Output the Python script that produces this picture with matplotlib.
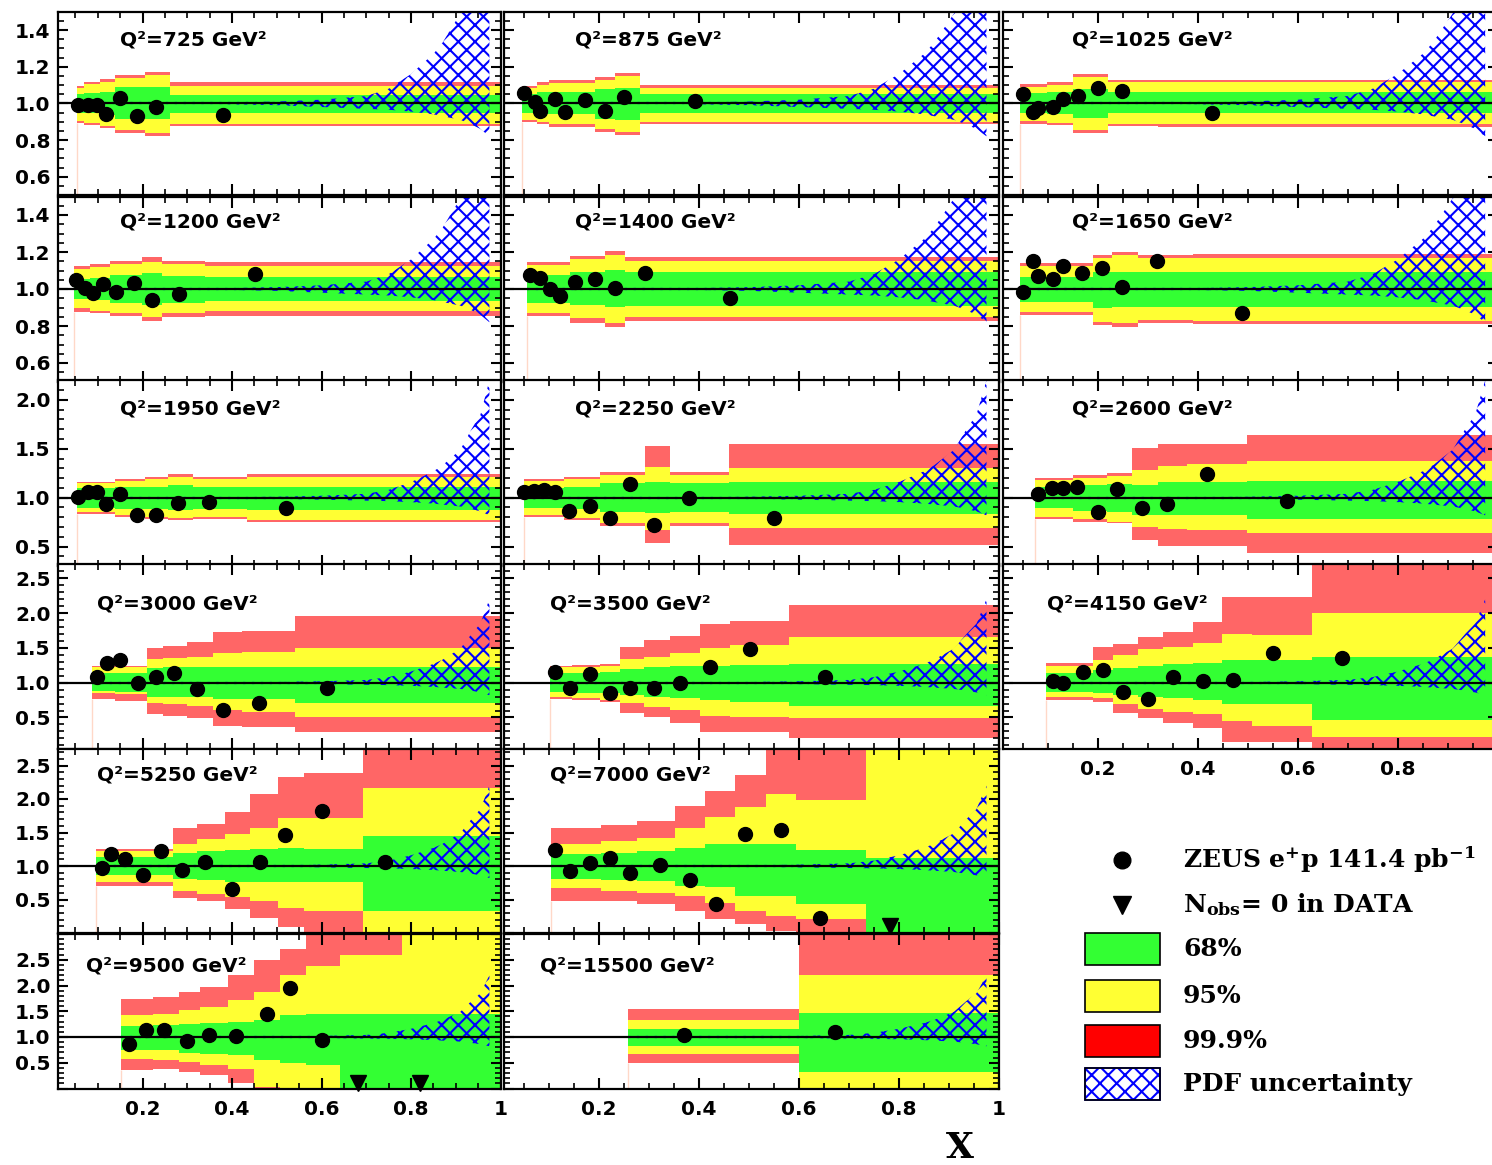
import numpy as np
import matplotlib
matplotlib.use("Agg")
import matplotlib.pyplot as plt
from matplotlib.ticker import MultipleLocator, FuncFormatter
from matplotlib.patches import Rectangle
from matplotlib.lines import Line2D

W, H = 1492, 1165
plt.rcParams['font.family'] = ['DejaVu Sans']
plt.rcParams['hatch.linewidth'] = 1.5
plt.rcParams['mathtext.fontset'] = 'dejavuserif'

# ---------------- data ----------------
q2_labels = ["725", "875", "1025", "1200", "1400", "1650", "1950", "2250", "2600",
             "3000", "3500", "4150", "5250", "7000", "9500", "15500"]

bin_edges = {
    "725":  [0.053, 0.068, 0.105, 0.138, 0.205, 0.261, 1.0],
    "875":  [0.045, 0.075, 0.099, 0.192, 0.232, 0.282, 1.0],
    "1025": [0.045, 0.098, 0.151, 0.221, 0.321, 1.0],
    "1200": [0.047, 0.082, 0.127, 0.198, 0.243, 0.339, 1.0],
    "1400": [0.055, 0.142, 0.212, 0.252, 1.0],
    "1650": [0.045, 0.191, 0.228, 0.281, 0.391, 1.0],
    "1950": [0.053, 0.138, 0.205, 0.257, 0.313, 0.433, 1.0],
    "2250": [0.049, 0.129, 0.201, 0.292, 0.342, 0.459, 1.0],
    "2600": [0.075, 0.151, 0.218, 0.268, 0.320, 0.378, 0.498, 1.0],
    "3000": [0.086, 0.138, 0.209, 0.246, 0.299, 0.358, 0.421, 0.541, 1.0],
    "3500": [0.102, 0.145, 0.201, 0.241, 0.290, 0.342, 0.402, 0.461, 0.579, 1.0],
    "4150": [0.096, 0.191, 0.231, 0.281, 0.331, 0.391, 0.449, 0.508, 0.629, 1.0],
    "5250": [0.096, 0.268, 0.322, 0.383, 0.440, 0.503, 0.560, 0.692, 1.0],
    "7000": [0.104, 0.203, 0.276, 0.351, 0.411, 0.472, 0.533, 0.593, 0.734, 1.0],
    "9500": [0.151, 0.224, 0.282, 0.329, 0.390, 0.448, 0.508, 0.566, 0.641, 0.779, 1.0],
    "15500": [0.257, 0.600, 1.0],
}

red_hi = {
    "725":  [1.095, 1.118, 1.131, 1.155, 1.173, 1.118],
    "875":  [1.095, 1.115, 1.125, 1.145, 1.165, 1.10],
    "1025": [1.105, 1.115, 1.16, 1.13, 1.13],
    "1200": [1.124, 1.135, 1.151, 1.175, 1.151, 1.148],
    "1400": [1.148, 1.18, 1.205, 1.172],
    "1650": [1.14, 1.184, 1.20, 1.184, 1.189],
    "1950": [1.163, 1.19, 1.214, 1.238, 1.214, 1.238],
    "2250": [1.19, 1.214, 1.259, 1.527, 1.265, 1.554],
    "2600": [1.204, 1.231, 1.248, 1.51, 1.554, 1.554, 1.646],
    "3000": [1.24, 1.24, 1.493, 1.527, 1.589, 1.733, 1.747, 1.958],
    "3500": [1.24, 1.254, 1.268, 1.508, 1.613, 1.67, 1.843, 1.891, 2.116],
    "4150": [1.278, 1.508, 1.556, 1.661, 1.733, 1.876, 2.236, 2.236, 2.75],
    "5250": [1.26, 1.56, 1.63, 1.80, 2.07, 2.33, 2.39, 2.80],
    "7000": [1.572, 1.607, 1.672, 1.896, 2.12, 2.358, 2.80, 2.80, 2.80],
    "9500": [1.744, 1.777, 1.874, 1.971, 2.197, 2.489, 2.715, 3.05, 3.05, 3.05],
    "15500": [1.55, 3.05],
}
red_lo = {
    "725":  [0.895, 0.882, 0.864, 0.836, 0.822, 0.876],
    "875":  [0.90, 0.885, 0.87, 0.845, 0.83, 0.887],
    "1025": [0.89, 0.88, 0.84, 0.875, 0.87],
    "1200": [0.877, 0.868, 0.854, 0.827, 0.85, 0.854],
    "1400": [0.854, 0.818, 0.796, 0.829],
    "1650": [0.86, 0.805, 0.797, 0.818, 0.811],
    "1950": [0.83, 0.806, 0.782, 0.772, 0.782, 0.755],
    "2250": [0.806, 0.772, 0.714, 0.534, 0.714, 0.517],
    "2600": [0.782, 0.755, 0.738, 0.568, 0.51, 0.51, 0.432],
    "3000": [0.761, 0.741, 0.55, 0.521, 0.488, 0.377, 0.358, 0.296],
    "3500": [0.761, 0.751, 0.727, 0.569, 0.511, 0.425, 0.296, 0.296, 0.20],
    "4150": [0.751, 0.727, 0.559, 0.488, 0.416, 0.344, 0.152, 0.152, 0.0],
    "5250": [0.70, 0.517, 0.478, 0.353, 0.219, 0.09, 0.0, 0.0],
    "7000": [0.48, 0.48, 0.438, 0.328, 0.204, 0.129, 0.03, 0.0, 0.0],
    "9500": [0.366, 0.385, 0.32, 0.256, 0.107, 0.0, 0.0, 0.0, 0.0, 0.0],
    "15500": [0.495, 0.0],
}
yel_hi = {
    "725":  [1.082, 1.105, 1.118, 1.136, 1.155, 1.095],
    "875":  [1.085, 1.10, 1.11, 1.13, 1.15, 1.085],
    "1025": [1.09, 1.10, 1.145, 1.115, 1.115],
    "1200": [1.106, 1.117, 1.135, 1.148, 1.135, 1.124],
    "1400": [1.13, 1.16, 1.184, 1.151],
    "1650": [1.124, 1.166, 1.184, 1.166, 1.166],
    "1950": [1.146, 1.17, 1.19, 1.214, 1.19, 1.214],
    "2250": [1.17, 1.19, 1.231, 1.316, 1.231, 1.306],
    "2600": [1.18, 1.204, 1.224, 1.282, 1.327, 1.34, 1.374],
    "3000": [1.22, 1.22, 1.335, 1.35, 1.374, 1.431, 1.445, 1.493],
    "3500": [1.22, 1.23, 1.24, 1.335, 1.374, 1.421, 1.493, 1.541, 1.651],
    "4150": [1.24, 1.326, 1.397, 1.479, 1.508, 1.565, 1.699, 1.685, 2.006],
    "5250": [1.23, 1.333, 1.40, 1.483, 1.572, 1.711, 1.711, 2.17],
    "7000": [1.333, 1.373, 1.413, 1.572, 1.731, 1.88, 2.08, 1.98, 2.80],
    "9500": [1.421, 1.44, 1.518, 1.583, 1.712, 1.874, 2.197, 2.372, 2.586, 3.05],
    "15500": [1.324, 2.197],
}
yel_lo = {
    "725":  [0.905, 0.895, 0.876, 0.855, 0.84, 0.89],
    "875":  [0.91, 0.90, 0.885, 0.86, 0.845, 0.90],
    "1025": [0.905, 0.895, 0.855, 0.89, 0.885],
    "1200": [0.895, 0.883, 0.872, 0.85, 0.868, 0.883],
    "1400": [0.872, 0.841, 0.818, 0.847],
    "1650": [0.877, 0.823, 0.814, 0.832, 0.829],
    "1950": [0.85, 0.823, 0.806, 0.789, 0.806, 0.772],
    "2250": [0.823, 0.796, 0.738, 0.67, 0.738, 0.687],
    "2600": [0.806, 0.782, 0.755, 0.704, 0.68, 0.67, 0.636],
    "3000": [0.856, 0.837, 0.703, 0.693, 0.665, 0.607, 0.583, 0.511],
    "3500": [0.789, 0.775, 0.751, 0.703, 0.655, 0.607, 0.521, 0.511, 0.488],
    "4150": [0.789, 0.775, 0.693, 0.617, 0.583, 0.55, 0.454, 0.377, 0.224],
    "5250": [0.766, 0.627, 0.587, 0.537, 0.478, 0.368, 0.328, 0.0],
    "7000": [0.667, 0.627, 0.602, 0.552, 0.453, 0.328, 0.254, 0.204, 0.0],
    "9500": [0.579, 0.56, 0.515, 0.45, 0.385, 0.03, 0.0, 0.0, 0.0, 0.0],
    "15500": [0.663, 0.0],
}
grn_hi = {
    "725":  [1.05, 1.055, 1.064, 1.087, 1.087, 1.045],
    "875":  [1.05, 1.06, 1.06, 1.08, 1.085, 1.05],
    "1025": [1.055, 1.06, 1.08, 1.06, 1.06],
    "1200": [1.052, 1.058, 1.076, 1.085, 1.07, 1.063],
    "1400": [1.076, 1.094, 1.103, 1.094],
    "1650": [1.063, 1.094, 1.094, 1.094, 1.094],
    "1950": [1.102, 1.112, 1.112, 1.129, 1.112, 1.112],
    "2250": [1.095, 1.112, 1.146, 1.156, 1.146, 1.156],
    "2600": [1.112, 1.129, 1.136, 1.129, 1.156, 1.156, 1.17],
    "3000": [1.134, 1.134, 1.206, 1.22, 1.22, 1.22, 1.22, 1.22],
    "3500": [1.134, 1.144, 1.158, 1.192, 1.23, 1.24, 1.24, 1.254, 1.268],
    "4150": [1.144, 1.182, 1.206, 1.24, 1.268, 1.278, 1.326, 1.326, 1.364],
    "5250": [1.134, 1.20, 1.224, 1.234, 1.249, 1.274, 1.249, 1.448],
    "7000": [1.174, 1.20, 1.224, 1.264, 1.323, 1.333, 1.333, 1.234, 1.114],
    "9500": [1.207, 1.227, 1.246, 1.272, 1.291, 1.337, 1.421, 1.44, 1.44, 1.44],
    "15500": [1.162, 1.466],
}
grn_lo = {
    "725":  [0.95, 0.945, 0.936, 0.913, 0.913, 0.945],
    "875":  [0.95, 0.94, 0.94, 0.915, 0.91, 0.945],
    "1025": [0.945, 0.94, 0.92, 0.945, 0.945],
    "1200": [0.944, 0.94, 0.923, 0.914, 0.926, 0.937],
    "1400": [0.926, 0.914, 0.905, 0.908],
    "1650": [0.932, 0.895, 0.901, 0.901, 0.901],
    "1950": [0.898, 0.884, 0.884, 0.874, 0.884, 0.874],
    "2250": [0.898, 0.884, 0.857, 0.84, 0.857, 0.837],
    "2600": [0.891, 0.864, 0.857, 0.823, 0.823, 0.823, 0.782],
    "3000": [0.88, 0.871, 0.799, 0.789, 0.789, 0.761, 0.761, 0.703],
    "3500": [0.871, 0.856, 0.847, 0.823, 0.789, 0.775, 0.751, 0.727, 0.665],
    "4150": [0.871, 0.847, 0.823, 0.789, 0.775, 0.751, 0.693, 0.693, 0.464],
    "5250": [0.866, 0.80, 0.786, 0.766, 0.766, 0.766, 0.766, 0.328],
    "7000": [0.80, 0.786, 0.776, 0.701, 0.687, 0.552, 0.552, 0.438, 0.0],
    "9500": [0.754, 0.741, 0.689, 0.663, 0.644, 0.547, 0.495, 0.45, 0.0, 0.0],
    "15500": [0.819, 0.32],
}

data_x = {
    "725":  [0.056, 0.079, 0.099, 0.118, 0.149, 0.188, 0.229, 0.380],
    "875":  [0.050, 0.071, 0.081, 0.112, 0.132, 0.172, 0.211, 0.250, 0.392],
    "1025": [0.051, 0.071, 0.081, 0.111, 0.131, 0.160, 0.200, 0.249, 0.429],
    "1200": [0.051, 0.071, 0.090, 0.111, 0.140, 0.181, 0.220, 0.281, 0.451],
    "1400": [0.061, 0.081, 0.101, 0.121, 0.152, 0.192, 0.231, 0.291, 0.461],
    "1650": [0.051, 0.071, 0.080, 0.111, 0.131, 0.169, 0.209, 0.249, 0.319, 0.489],
    "1950": [0.056, 0.079, 0.099, 0.118, 0.149, 0.188, 0.229, 0.280, 0.348, 0.520],
    "2250": [0.049, 0.069, 0.089, 0.112, 0.140, 0.181, 0.221, 0.261, 0.310, 0.380, 0.550],
    "2600": [0.080, 0.109, 0.130, 0.159, 0.200, 0.239, 0.289, 0.338, 0.419, 0.579],
    "3000": [0.099, 0.120, 0.149, 0.190, 0.229, 0.270, 0.322, 0.380, 0.460, 0.611],
    "3500": [0.112, 0.142, 0.181, 0.222, 0.262, 0.310, 0.362, 0.421, 0.502, 0.652],
    "4150": [0.111, 0.131, 0.171, 0.211, 0.251, 0.300, 0.351, 0.411, 0.470, 0.550, 0.689],
    "5250": [0.110, 0.129, 0.160, 0.201, 0.241, 0.289, 0.340, 0.400, 0.462, 0.519, 0.600, 0.742],
    "7000": [0.112, 0.142, 0.181, 0.221, 0.261, 0.322, 0.382, 0.433, 0.491, 0.563, 0.642],
    "9500": [0.169, 0.207, 0.248, 0.299, 0.349, 0.408, 0.478, 0.530, 0.600],
    "15500": [0.370, 0.671],
}
data_y = {
    "725":  [0.991, 0.991, 0.991, 0.942, 1.027, 0.933, 0.982, 0.936],
    "875":  [1.058, 1.009, 0.960, 1.024, 0.955, 1.018, 0.960, 1.035, 1.013],
    "1025": [1.049, 0.955, 0.973, 0.982, 1.022, 1.040, 1.082, 1.067, 0.945],
    "1200": [1.049, 1.004, 0.977, 1.027, 0.982, 1.031, 0.941, 0.973, 1.081],
    "1400": [1.076, 1.058, 1.000, 0.962, 1.036, 1.052, 1.007, 1.085, 0.950],
    "1650": [0.986, 1.151, 1.070, 1.052, 1.126, 1.088, 1.115, 1.013, 1.153, 0.872],
    "1950": [1.010, 1.061, 1.061, 0.932, 1.034, 0.823, 0.823, 0.942, 0.952, 0.898],
    "2250": [1.061, 1.068, 1.078, 1.061, 0.864, 0.915, 0.789, 1.143, 0.721, 0.993, 0.796],
    "2600": [1.034, 1.095, 1.102, 1.112, 0.850, 1.085, 0.891, 0.935, 1.238, 0.969],
    "3000": [1.077, 1.287, 1.326, 0.990, 1.086, 1.134, 0.909, 0.607, 0.703, 0.919],
    "3500": [1.158, 0.919, 1.125, 0.847, 0.919, 0.919, 0.990, 1.220, 1.479, 1.077],
    "4150": [1.029, 1.000, 1.158, 1.182, 0.871, 0.761, 1.077, 1.029, 1.038, 1.421, 1.350],
    "5250": [0.965, 1.174, 1.100, 0.861, 1.224, 0.935, 1.065, 0.652, 1.065, 1.463, 1.821, 1.065],
    "7000": [1.234, 0.925, 1.050, 1.114, 0.900, 1.015, 0.786, 0.438, 1.473, 1.532, 0.219],
    "9500": [0.858, 1.129, 1.129, 0.922, 1.045, 1.019, 1.440, 1.958, 0.935],
    "15500": [1.045, 1.097],
}

# N_obs = 0 bins (downward triangles)
zero_x = {"7000": [0.782], "9500": [0.681, 0.819]}
zero_y = {"7000": [0.104], "9500": [0.107, 0.107]}

# PDF uncertainty band (ratio)
pdf_x = [0.30, 0.50, 0.60, 0.70, 0.75, 0.80, 0.85, 0.87, 0.91, 0.935, 0.955, 0.975]
pdf_hi = [1.0, 1.01, 1.02, 1.04, 1.08, 1.16, 1.27, 1.33, 1.49, 1.70, 1.85, 2.20]
pdf_lo = [1.0, 0.99, 0.98, 0.97, 0.965, 0.955, 0.94, 0.93, 0.91, 0.885, 0.86, 0.82]

legend_labels = ["ZEUS e$^{\\mathbf{+}}$p 141.4 pb$^{\\mathbf{-1}}$",
                 "N$_{\\mathbf{obs}}$= 0 in DATA",
                 "68%", "95%", "99.9%", "PDF uncertainty"]

# ---------------- layout ----------------
col_px = [(57.6, 500.6), (504.0, 999.0), (1002.7, 1497.7)]
row_px = [(11.7, 195.0), (196.5, 381.5), (380.3, 566.2), (564.4, 748.8),
          (748.75, 933.0), (934.0, 1088.5)]
row_ylim = [(0.5, 1.5), (0.5, 1.5), (0.3, 2.2), (0.05, 2.7), (0.0, 2.75), (0.0, 3.0)]
row_major = [0.2, 0.2, 0.5, 0.5, 0.5, 0.5]
row_minor = [0.05, 0.05, 0.1, 0.1, 0.1, 0.1]
title_px = [(120, 575, 1072, 40), (120, 575, 1072, 222), (120, 575, 1072, 409),
            (97, 550, 1047, 604), (97, 550, None, 775), (86, 540, None, 966)]

C_GREEN = '#33ff33'
C_YEL = '#ffff33'
C_RED = '#ff6666'

fig = plt.figure(figsize=(W / 100, H / 100), dpi=100)


def xfmt(v, pos):
    if abs(v - 1.0) < 1e-6:
        return "1"
    if v < 0.1:
        return ""
    return "%.1f" % v


def xfmt_nolast(v, pos):
    if v < 0.1 or v > 0.95:
        return ""
    return "%.1f" % v


def yfmt(v, pos):
    if v < 0.2 or v > 2.6:
        return ""
    return "%.1f" % v


for i, lab in enumerate(q2_labels):
    if i < 12:
        r, c = divmod(i, 3)
    else:
        r = 4 + (i - 12) // 2
        c = (i - 12) % 2
    x0, x1 = col_px[c]
    y0, y1 = row_px[r]
    ax = fig.add_axes([x0 / W, 1 - y1 / H, (x1 - x0) / W, (y1 - y0) / H])
    ax.set_xlim(0.01, 1.0)
    ax.set_ylim(*row_ylim[r])
    e = bin_edges[lab]
    ax.stairs(red_hi[lab], e, baseline=red_lo[lab], fill=True, color=C_RED, lw=0, zorder=1)
    ax.stairs(yel_hi[lab], e, baseline=yel_lo[lab], fill=True, color=C_YEL, lw=0, zorder=1.1)
    ax.stairs(grn_hi[lab], e, baseline=grn_lo[lab], fill=True, color=C_GREEN, lw=0, zorder=1.2)
    ax.vlines(e[0], row_ylim[r][0], red_lo[lab][0], color='#ffd8c8', lw=1.0, zorder=1)
    ax.fill_between(pdf_x, pdf_lo, pdf_hi, facecolor='none', edgecolor='blue',
                    hatch='xx', linewidth=0, zorder=2)
    ax.plot([e[0], 0.62], [1.0, 1.0], color='blue', ls=(0, (1, 3)), lw=1.6, zorder=2.5)
    ax.axhline(1.0, color='black', lw=1.6, zorder=3)
    ax.plot(data_x[lab], data_y[lab], 'o', color='black', ms=10, zorder=4, clip_on=False)
    if lab in zero_x:
        ax.plot(zero_x[lab], zero_y[lab], 'v', color='black', ms=11, zorder=4, clip_on=False)

    ax.xaxis.set_major_locator(MultipleLocator(0.2))
    ax.xaxis.set_minor_locator(MultipleLocator(0.05))
    ax.yaxis.set_major_locator(MultipleLocator(row_major[r]))
    ax.yaxis.set_minor_locator(MultipleLocator(row_minor[r]))
    ax.tick_params(axis='both', which='both', direction='in', top=True, right=True)
    ax.tick_params(axis='x', which='major', length=8, width=1.5)
    ax.tick_params(axis='x', which='minor', length=4, width=1.2)
    ax.tick_params(axis='y', which='major', length=7, width=1.5)
    ax.tick_params(axis='y', which='minor', length=4, width=1.2)
    ax.tick_params(axis='both', labelsize=14.5, pad=5)
    for s in ax.spines.values():
        s.set_linewidth(1.6)
    if lab == "4150":
        ax.xaxis.set_major_formatter(FuncFormatter(xfmt_nolast))
    else:
        ax.xaxis.set_major_formatter(FuncFormatter(xfmt))
    ax.yaxis.set_major_formatter(FuncFormatter(yfmt))
    show_x = (r == 5) or (lab == "4150")
    show_y = (c == 0)
    ax.tick_params(axis='x', labelbottom=show_x, pad=8)
    ax.tick_params(axis='y', labelleft=show_y)
    for t in ax.get_xticklabels() + ax.get_yticklabels():
        t.set_fontweight('bold')

    tx = title_px[r][c]
    ty = title_px[r][3]
    fig.text(tx / W, 1 - ty / H, "Q\u00b2=%s GeV\u00b2" % lab, fontsize=14.5,
             fontweight='bold', ha='left', va='center')

# x axis title
fig.text(960 / W, 1 - 1148 / H, "X", fontsize=26, fontweight='bold',
         family='DejaVu Serif', ha='center', va='center')


# legend
def fx(px):
    return px / W


def fy(py):
    return 1 - py / H


fig.add_artist(Line2D([fx(1122)], [fy(860)], marker='o', color='black', ms=12,
                      transform=fig.transFigure))
fig.add_artist(Line2D([fx(1122)], [fy(905)], marker='v', color='black', ms=13,
                      transform=fig.transFigure))
boxes = [(933, '#33ff33', None), (980, '#ffff33', None), (1025, '#ff0000', None),
         (1068, 'white', 'xx')]
for (ytop, col, hatch) in boxes:
    rect = Rectangle((fx(1085), fy(ytop + 32)), (1160 - 1085) / W, 32 / H,
                     transform=fig.transFigure, facecolor=col,
                     edgecolor='blue' if hatch else 'black', hatch=hatch, lw=1.2)
    fig.add_artist(rect)
    if hatch:
        fig.add_artist(Rectangle((fx(1085), fy(ytop + 32)), (1160 - 1085) / W, 32 / H,
                                 transform=fig.transFigure, facecolor='none',
                                 edgecolor='black', lw=1.2))
leg_y = [860, 905, 949, 996, 1041, 1084]
for lab, yy in zip(legend_labels, leg_y):
    fig.text(fx(1183), fy(yy), lab, fontsize=18, fontweight='bold',
             family='DejaVu Serif', ha='left', va='center')

fig.savefig("out.png", dpi=100)
